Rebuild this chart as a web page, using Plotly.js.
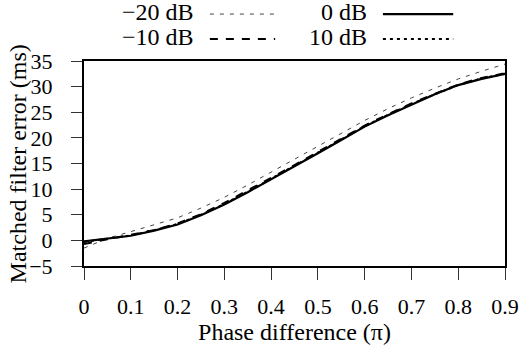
<!DOCTYPE html>
<html>
<head>
<meta charset="utf-8">
<script src="https://cdn.plot.ly/plotly-3.0.1.min.js"></script>
<style>html,body{margin:0;padding:0;background:#fff;}#chart{width:522px;height:345px;}</style>
</head>
<body>
<div id="chart"></div>
<script>
// Phase difference (units of pi)
const phase = [0, 0.05, 0.1, 0.15, 0.2, 0.25, 0.3, 0.35, 0.4, 0.45, 0.5, 0.55, 0.6, 0.65, 0.7, 0.75, 0.8, 0.85, 0.9];
// Matched filter error (ms) per SNR
const errM20 = [-1.5, 0.4, 1.7, 3.0, 4.4, 6.3, 8.4, 10.8, 13.3, 15.8, 18.3, 20.9, 23.4, 25.7, 27.8, 29.7, 31.5, 33.0, 34.4];
const errM10 = [-0.7, 0.2, 1.0, 2.0, 3.3, 5.1, 7.3, 9.7, 12.2, 14.7, 17.3, 19.9, 22.4, 24.6, 26.7, 28.6, 30.4, 31.7, 32.6];
const err0   = [-0.2, 0.4, 0.9, 1.9, 3.1, 4.9, 7.0, 9.4, 11.9, 14.4, 17.0, 19.6, 22.2, 24.4, 26.5, 28.5, 30.3, 31.5, 32.5];
const err10  = [-0.3, 0.35, 0.95, 2.0, 3.2, 5.0, 7.1, 9.5, 12.0, 14.5, 17.1, 19.7, 22.3, 24.5, 26.6, 28.5, 30.3, 31.6, 32.5];
const seriesNames = ["\u221220 dB", "\u221210 dB", "0 dB", "10 dB"];
const xTicks = [0, 0.1, 0.2, 0.3, 0.4, 0.5, 0.6, 0.7, 0.8, 0.9];
const yTicks = [-5, 0, 5, 10, 15, 20, 25, 30, 35];
const xTitle = "Phase difference (\u03c0)";
const yTitle = "Matched filter error (ms)";

const FONT = "'Liberation Serif', 'Times New Roman', 'DejaVu Serif', serif";
const styles = [
  {color: "#444", width: 1, dash: "4px,6px"},
  {color: "#000", width: 2, dash: "8px,8px"},
  {color: "#000", width: 2.2, dash: "solid"},
  {color: "#000", width: 2, dash: "3px,4px"}
];
const ys = [errM20, errM10, err0, err10];
const traces = ys.map((y, i) => ({
  x: phase, y: y, type: "scatter", mode: "lines", name: seriesNames[i],
  line: {color: styles[i].color, width: styles[i].width, dash: styles[i].dash},
  showlegend: false
}));

// legend built from annotations + sample line shapes (paper coords)
const legPos = [
  {tx: 0.266, sx0: 0.299, sx1: 0.454, y: 1.229},
  {tx: 0.266, sx0: 0.299, sx1: 0.454, y: 1.107},
  {tx: 0.677, sx0: 0.710, sx1: 0.877, y: 1.229},
  {tx: 0.677, sx0: 0.710, sx1: 0.877, y: 1.107}
];
const annotations = seriesNames.map((n, i) => ({
  xref: "paper", yref: "paper", x: legPos[i].tx, y: legPos[i].y + 0.012,
  xanchor: "right", yanchor: "middle", text: n, showarrow: false,
  font: {family: FONT, size: 24, color: "#000"}
}));
annotations.push({
  xref: "paper", yref: "paper", x: -0.157, y: 0.5, textangle: -90,
  xanchor: "center", yanchor: "middle", text: yTitle, showarrow: false,
  font: {family: FONT, size: 24, color: "#000"}
});
const shapes = seriesNames.map((n, i) => ({
  type: "line", xref: "paper", yref: "paper",
  x0: legPos[i].sx0, x1: legPos[i].sx1, y0: legPos[i].y, y1: legPos[i].y,
  line: {color: styles[i].color, width: styles[i].width, dash: styles[i].dash}
}));

const layout = {
  width: 522, height: 345,
  margin: {l: 84, r: 17, t: 61, b: 79, pad: 0},
  paper_bgcolor: "#fff", plot_bgcolor: "#fff",
  font: {family: FONT, size: 22, color: "#000"},
  showlegend: false,
  xaxis: {
    range: [0, 0.9], tickvals: xTicks, ticktext: xTicks.map(String),
    showgrid: false, zeroline: false,
    showline: true, linecolor: "#000", linewidth: 2, mirror: true,
    ticks: "outside", ticklen: 12, tickwidth: 1, tickcolor: "#333",
    ticklabelstandoff: 8,
    tickfont: {family: FONT, size: 22},
    title: {text: xTitle, font: {family: FONT, size: 24}, standoff: 0},
    automargin: false, fixedrange: true
  },
  yaxis: {
    range: [-5, 35], tickvals: yTicks,
    showgrid: false, zeroline: false,
    showline: true, linecolor: "#000", linewidth: 2, mirror: true,
    ticks: "outside", ticklen: 11, tickwidth: 1, tickcolor: "#333",
    ticklabelstandoff: 14,
    tickfont: {family: FONT, size: 22},
    automargin: false, fixedrange: true
  },
  annotations: annotations,
  shapes: shapes
};

Plotly.newPlot("chart", traces, layout, {staticPlot: true, displayModeBar: false});
</script>
</body>
</html>
